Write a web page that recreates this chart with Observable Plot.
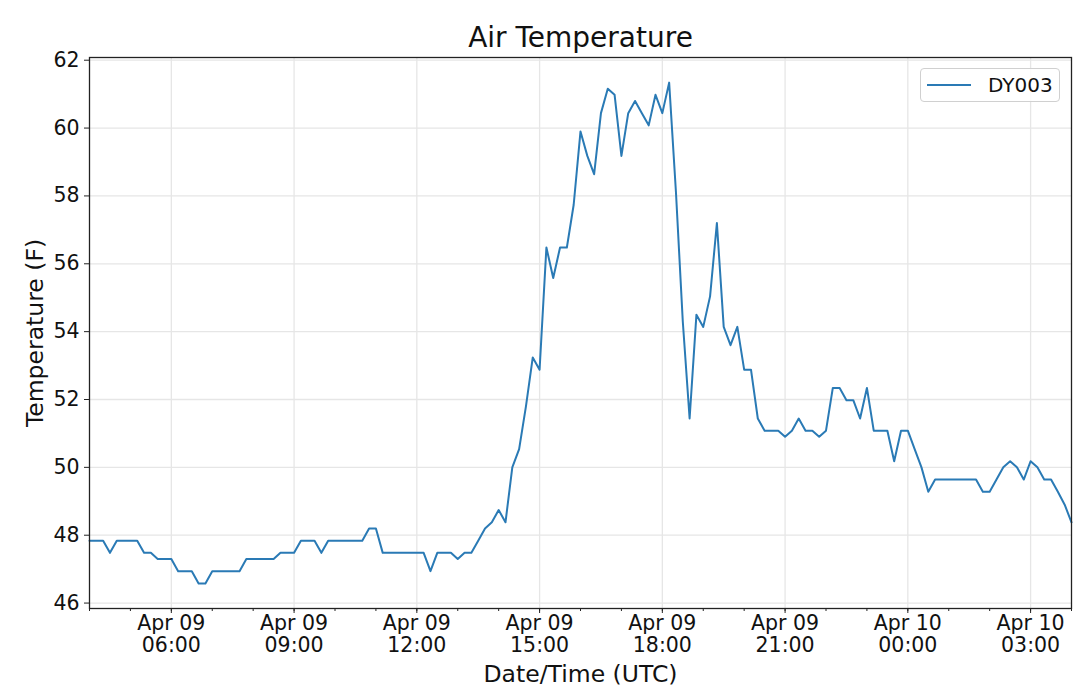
<!DOCTYPE html>
<html>
<head>
<meta charset="utf-8">
<script src="https://cdn.jsdelivr.net/npm/d3@7"></script>
<script src="https://cdn.jsdelivr.net/npm/@observablehq/plot@0.6"></script>
<style>
  html, body { margin: 0; padding: 0; background: #fff; }
  #wrap { position: relative; width: 1080px; height: 694px; font-family: "DejaVu Sans", sans-serif; }
  #legend {
    position: absolute; left: 920px; top: 68px; width: 140px; height: 34px;
    border: 1px solid #d0d0d0; border-radius: 4px; background: rgba(255,255,255,0.85);
    box-sizing: border-box; display: flex; align-items: center;
  }
  #legend .sw { width: 44px; height: 2px; background: #2a7ab5; margin-left: 6px; }
  #legend .lb { margin-left: 17px; font-size: 20px; color: #111; }
</style>
</head>
<body>
<div id="wrap">
  <div id="chart"></div>
  <div id="legend"><div class="sw"></div><div class="lb">DY003</div></div>
</div>
<script>
// ---- data ----
const title = "Air Temperature";
const seriesName = "DY003";
const xLabel = "Date/Time (UTC)";
const yLabel = "Temperature (F)";
const startTime = "2019-04-09T04:00:00Z";
const endTime = "2019-04-10T04:00:00Z";
const stepMinutes = 10;
const yTicks = [46, 48, 50, 52, 54, 56, 58, 60, 62];
const yDomain = [45.84, 62.08];
// temperature readings (F), every 10 minutes from 04:00 UTC Apr 09
const temps = [
  47.84, 47.84, 47.84, 47.48, 47.84, 47.84, 47.84, 47.84, 47.48, 47.48,
  47.30, 47.30, 47.30, 46.94, 46.94, 46.94, 46.58, 46.58, 46.94, 46.94,
  46.94, 46.94, 46.94, 47.30, 47.30, 47.30, 47.30, 47.30, 47.48, 47.48,
  47.48, 47.84, 47.84, 47.84, 47.48, 47.84, 47.84, 47.84, 47.84, 47.84,
  47.84, 48.20, 48.20, 47.48, 47.48, 47.48, 47.48, 47.48, 47.48, 47.48,
  46.94, 47.48, 47.48, 47.48, 47.30, 47.48, 47.48, 47.84, 48.20, 48.38,
  48.74, 48.38, 50.00, 50.54, 51.80, 53.24, 52.88, 56.48, 55.58, 56.48,
  56.48, 57.74, 59.90, 59.18, 58.64, 60.44, 61.16, 60.98, 59.18, 60.44,
  60.80, 60.44, 60.08, 60.98, 60.44, 61.34, 58.10, 54.30, 51.44, 54.50,
  54.14, 55.04, 57.20, 54.14, 53.60, 54.14, 52.88, 52.88, 51.44, 51.08,
  51.08, 51.08, 50.90, 51.08, 51.44, 51.08, 51.08, 50.90, 51.08, 52.34,
  52.34, 51.98, 51.98, 51.44, 52.34, 51.08, 51.08, 51.08, 50.18, 51.08,
  51.08, 50.54, 50.00, 49.28, 49.64, 49.64, 49.64, 49.64, 49.64, 49.64,
  49.64, 49.28, 49.28, 49.64, 50.00, 50.18, 50.00, 49.64, 50.18, 50.00,
  49.64, 49.64, 49.28, 48.90, 48.38
];

const times = d3.utcMinute.every(stepMinutes).range(new Date(startTime), new Date(new Date(endTime).getTime() + 1));
const data = temps.map((v, i) => ({time: times[i], temp: v}));

const fmtDate = d3.utcFormat("%b %d");
const fmtTime = d3.utcFormat("%H:%M");
const majorTicks = d3.utcHour.every(3).range(new Date(startTime), new Date(endTime)).filter(d => d > new Date(startTime));
const minorTicks = d3.utcHour.every(1).range(new Date(startTime), new Date(new Date(endTime).getTime() + 1));

const chart = Plot.plot({
  width: 1080,
  height: 694,
  marginLeft: 89,
  marginRight: 9,
  marginTop: 57,
  marginBottom: 86,
  style: {fontFamily: "DejaVu Sans, sans-serif", background: "#fff", color: "#111"},
  x: {type: "utc", domain: [new Date(startTime), new Date(endTime)]},
  y: {domain: yDomain},
  marks: [
    Plot.gridX(majorTicks, {stroke: "#e6e6e6", strokeOpacity: 1, strokeWidth: 1.3}),
    Plot.gridY(yTicks, {stroke: "#e6e6e6", strokeOpacity: 1, strokeWidth: 1.3}),
    Plot.lineY(data, {x: "time", y: "temp", stroke: "#2a7ab5", strokeWidth: 2}),
    Plot.frame({stroke: "#222", strokeWidth: 1.3}),
    Plot.axisX(minorTicks, {tickSize: 3, text: null, label: null, stroke: "#222"}),
    Plot.axisX(majorTicks, {
      tickSize: 5, tickPadding: 1, fontSize: 20.5, lineHeight: 1.06, label: null, stroke: "#222",
      tickFormat: d => fmtDate(d) + "\n" + fmtTime(d)
    }),
    Plot.axisY(yTicks, {tickSize: 5, tickPadding: 5, fontSize: 20.5, label: null, stroke: "#222"}),
    Plot.text([title], {frameAnchor: "top", lineAnchor: "middle", dy: -19, fontSize: 28, fill: "#111"}),
    Plot.text([xLabel], {frameAnchor: "bottom", lineAnchor: "middle", dy: 66, fontSize: 23.5, fill: "#111"}),
    Plot.text([yLabel], {frameAnchor: "left", textAnchor: "middle", lineAnchor: "middle", dx: -54, rotate: -90, fontSize: 23.5, fill: "#111"})
  ]
});
document.getElementById("chart").appendChild(chart);
</script>
</body>
</html>
